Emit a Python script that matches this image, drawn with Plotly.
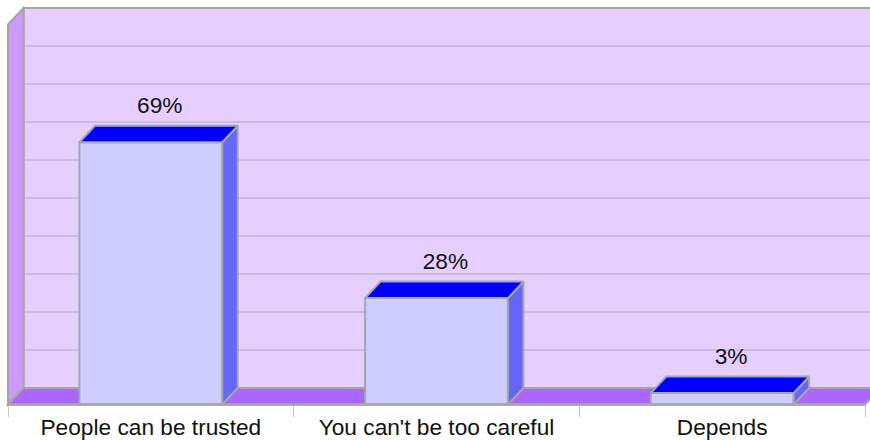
import plotly.graph_objects as go

categories = ["People can be trusted", "You can't be too careful", "Depends"]
values = [69, 28, 3]
value_labels = ["69%", "28%", "3%"]
grid_values = [10, 20, 30, 40, 50, 60, 70, 80, 90, 100]

# Oblique projection offset of the box, in axis units
DX, DY = 0.0543, 4.34
BAR_W = 0.5
X_MIN, X_MAX = -0.5, 2.5
WALL_TOP = 100

EDGE = "#A6A6A6"
GRID = "#B4A9BE"
BACK = "#E6CFFF"
LEFT = "#CC99FF"
FLOOR = "#AA66FF"
FRONT = "#CFCDFF"
SIDE = "#6666FF"
TOP = "#0000FF"
FONT = dict(family="Liberation Sans", size=22.7, color="#111111")


def path(points):
    return "M " + " L ".join(f"{x},{y}" for x, y in points) + " Z"


def wall(points, color):
    return dict(type="path", path=path(points), xref="x", yref="y", layer="below",
                fillcolor=color, line=dict(color=EDGE, width=2))


right = X_MAX + DX
shapes = [
    wall([(X_MIN + DX, DY), (right, DY), (right, WALL_TOP + DY), (X_MIN + DX, WALL_TOP + DY)], BACK),
    wall([(X_MIN, 0), (X_MIN + DX, DY), (X_MIN + DX, WALL_TOP + DY), (X_MIN, WALL_TOP)], LEFT),
    wall([(X_MIN, 0), (X_MAX, 0), (right, DY), (X_MIN + DX, DY)], FLOOR),
]
for g in grid_values[:-1]:
    shapes.append(dict(type="line", xref="x", yref="y", layer="below",
                       x0=X_MIN + DX, x1=right, y0=g + DY, y1=g + DY,
                       line=dict(color=GRID, width=1.2)))

fig = go.Figure()

# Front faces of the boxes
fig.add_trace(go.Bar(x=[0, 1, 2], y=values, width=BAR_W, marker=dict(color=FRONT, line=dict(color=EDGE, width=2))))


def face(xs, ys, color):
    fig.add_trace(go.Scatter(x=xs, y=ys, mode="lines", fill="toself", fillcolor=color,
                             line=dict(color=EDGE, width=2), hoverinfo="skip"))


# Side and top faces derived from each value
for i, v in enumerate(values):
    x0, x1 = i - BAR_W / 2, i + BAR_W / 2
    face([x1, x1 + DX, x1 + DX, x1, x1], [0, DY, v + DY, v, 0], SIDE)
    face([x0, x1, x1 + DX, x0 + DX, x0], [v, v, v + DY, v + DY, v], TOP)

# Front floor edge
fig.add_trace(go.Scatter(x=[X_MIN, X_MAX], y=[0, 0], mode="lines",
                         line=dict(color=EDGE, width=2.5), hoverinfo="skip"))

# Value labels above each box
fig.add_trace(go.Scatter(x=[i + DX / 2 + 0.004 for i in range(len(values))],
                         y=[v + DY + 1.8 for v in values],
                         mode="text", text=value_labels, textposition="top center",
                         textfont=FONT, hoverinfo="skip"))

fig.update_layout(
    width=870, height=440, margin=dict(l=0, r=0, t=0, b=0),
    paper_bgcolor="white", plot_bgcolor="white",
    showlegend=False, shapes=shapes, font=FONT,
    xaxis=dict(range=[-0.528, 2.5175], anchor="free", position=35.5 / 440,
               showgrid=False, zeroline=False, showline=False,
               tickmode="array", tickvals=[0, 1, 2], ticktext=categories,
               ticks="", tickfont=FONT, ticklabelstandoff=7,
               minor=dict(tickmode="array", tickvals=[-0.5, 0.5, 1.5, 2.5], ticks="outside",
                          ticklen=11, tickwidth=1, tickcolor="#C4C4C4", showgrid=False)),
    yaxis=dict(range=[-9.34, 106.45], visible=False, fixedrange=True),
)

fig.write_html("out.html", config=dict(displayModeBar=False))
